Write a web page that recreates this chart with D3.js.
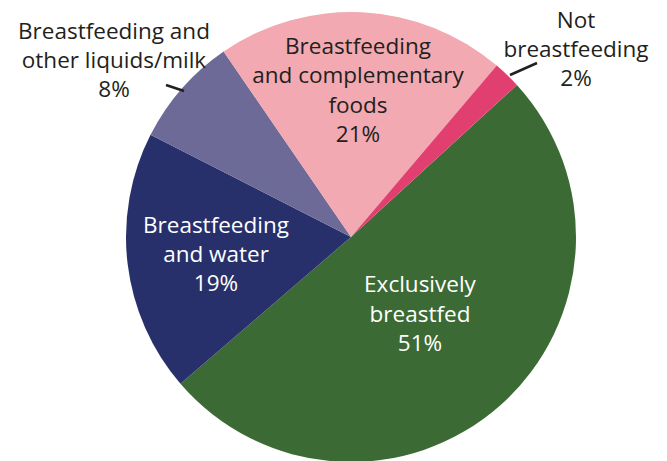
<!DOCTYPE html>
<html>
<head>
<meta charset="utf-8">
<script src="https://cdn.jsdelivr.net/npm/d3@7"></script>
<style>
  html, body { margin: 0; padding: 0; background: #fff; }
  text { font-family: "Open Sans", sans-serif; }
</style>
</head>
<body>
<svg id="chart" width="667" height="461"></svg>
<script>
const categories = ["Exclusively breastfed", "Breastfeeding and water", "Breastfeeding and other liquids/milk", "Breastfeeding and complementary foods", "Not breastfeeding"];
const values = [51, 19, 8, 21, 2];
const colors = ["#3c6a34", "#27306b", "#6e6a98", "#f2a9b1", "#e13f70"];
const labelLines = [
  ["Exclusively", "breastfed", "51%"],
  ["Breastfeeding", "and water", "19%"],
  ["Breastfeeding and", "other liquids/milk", "8%"],
  ["Breastfeeding", "and complementary", "foods", "21%"],
  ["Not", "breastfeeding", "2%"]
];
const labelColors = ["#fff", "#fff", "#231f20", "#231f20", "#231f20"];
const labelPos = [[420, 292], [216, 233], [114, 39], [358, 54], [576, 28]];
const lineGap = [29.5, 29, 29, 29.3, 29];

const svg = d3.select("#chart");
const cx = 351, cy = 237, R = 225;
const start = 47.5 * Math.PI / 180;
const pie = d3.pie().sort(null).value(d => d).startAngle(start).endAngle(start + 2 * Math.PI);
const arc = d3.arc().innerRadius(0).outerRadius(R);
const arcs = pie(values);

const g = svg.append("g").attr("transform", `translate(${cx},${cy})`);
g.selectAll("path").data(arcs).enter().append("path")
  .attr("d", arc)
  .attr("fill", (d, i) => colors[i]);

const leaders = [[2, [166, 85], [184, 91]], [4, [510, 75], [537, 63]]];
leaders.forEach(([i, a, b]) => {
  svg.append("line").attr("x1", a[0]).attr("y1", a[1]).attr("x2", b[0]).attr("y2", b[1])
    .attr("stroke", "#231f20").attr("stroke-width", 2.5);
});

labelLines.forEach((lines, i) => {
  lines.forEach((s, j) => {
    svg.append("text")
      .attr("text-anchor", "middle")
      .attr("fill", labelColors[i])
      .attr("font-size", 22.5)
      .attr("x", labelPos[i][0])
      .attr("y", labelPos[i][1] + j * lineGap[i])
      .text(s);
  });
});
</script>
</body>
</html>
